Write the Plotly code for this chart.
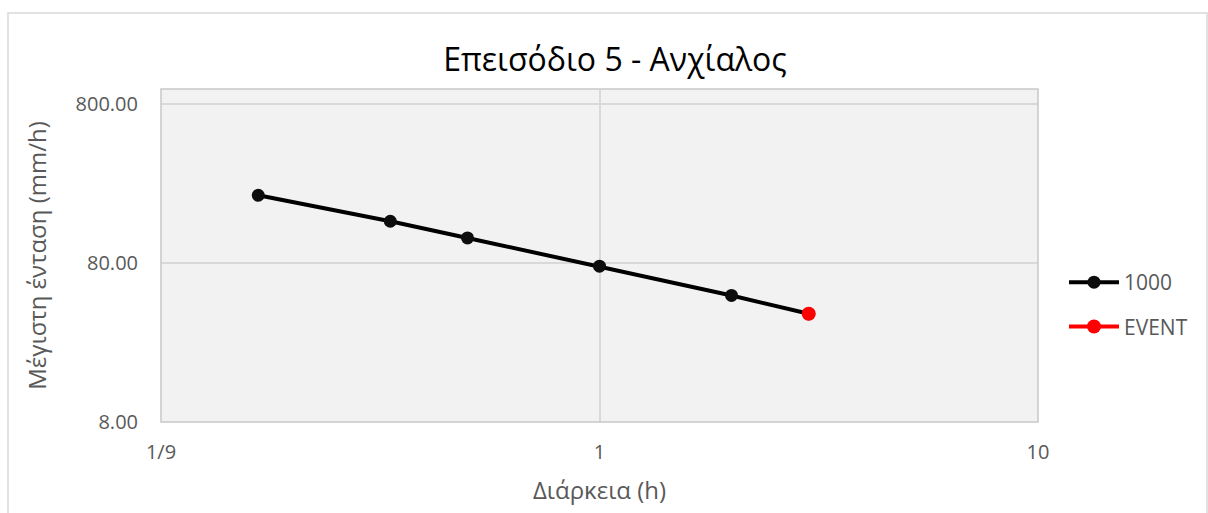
import plotly.graph_objects as go

# Duration (h) and maximum intensity (mm/h) for the 1000-year curve
durations = [1/6, 1/3, 0.5, 1.0, 2.0, 3.0]
intensity_1000 = [214.2, 147.0, 115.4, 76.6, 50.1, 38.4]

# Observed event
event_duration = [3.0]
event_intensity = [38.4]

x_tickvals = [0.1, 1, 10]
x_ticktext = ["1/9", "1", "10"]
y_tickvals = [8, 80, 800]
y_ticktext = ["8.00", "80.00", "800.00"]

FONT = "Open Sans"
GREY = "#595959"

fig = go.Figure()
fig.add_trace(go.Scatter(
    x=durations, y=intensity_1000, name="1000", mode="lines+markers",
    line=dict(color="#000000", width=4),
    marker=dict(color="#0d0d0d", size=13, symbol="circle"),
    legendgroup="a",
))
fig.add_trace(go.Scatter(
    x=event_duration, y=event_intensity, name="EVENT", mode="lines+markers",
    line=dict(color="#ff0000", width=4),
    marker=dict(color="#ff0000", size=14, symbol="circle"),
    legendgroup="b",
))

L, R, T, B = 161, 170, 89, 91
W, H = 1208, 513
pw, ph = W - L - R, H - T - B

def px_x(p):
    return (p - L) / pw

def px_y(p):
    return (H - B - p) / ph

fig.update_layout(
    width=W, height=H,
    margin=dict(l=L, r=R, t=T, b=B, autoexpand=False),
    paper_bgcolor="#ffffff",
    plot_bgcolor="#f2f2f2",
    font=dict(family=FONT, color=GREY),
    title=dict(
        text="Επεισόδιο 5 - Ανχίαλος",
        font=dict(family=FONT, size=32, color="#000000"),
        x=px_x(615), xref="paper", xanchor="center",
        y=1 - 60 / H, yanchor="middle",
    ),
    xaxis=dict(
        type="log", range=[-1, 1],
        tickvals=x_tickvals, ticktext=x_ticktext,
        tickfont=dict(size=20, color=GREY),
        showgrid=True, gridcolor="#d9d9d9", gridwidth=1.5,
        zeroline=False, showline=False, ticks="",
        ticklabelstandoff=16,
        title=dict(text="Διάρκεια (h)", font=dict(size=24, color=GREY), standoff=18),
    ),
    yaxis=dict(
        type="log", range=[0.90309, 3.0],
        tickvals=y_tickvals, ticktext=y_ticktext,
        tickfont=dict(size=20, color=GREY),
        showgrid=True, gridcolor="#d9d9d9", gridwidth=1.5,
        zeroline=False, showline=False, ticks="",
        ticklabelstandoff=22,
        title=dict(text="Μέγιστη ένταση (mm/h)", font=dict(size=24, color=GREY), standoff=22),
    ),
    legend=dict(
        x=px_x(1064), xanchor="left",
        y=px_y(262), yanchor="top",
        font=dict(size=21, color=GREY),
        bgcolor="rgba(0,0,0,0)",
        tracegroupgap=14,
        itemwidth=50,
    ),
    showlegend=True,
    shapes=[
        # chart frame
        dict(type="rect", xref="paper", yref="paper",
             x0=px_x(8), x1=px_x(1207), y0=px_y(540), y1=px_y(13),
             line=dict(color="#d9d9d9", width=1.5), layer="below"),
        # plot-area border
        dict(type="rect", xref="paper", yref="paper",
             x0=0, x1=1, y0=0, y1=1,
             line=dict(color="#c8c8c8", width=1.5), layer="above"),
    ],
)

fig.write_html("out.html")
